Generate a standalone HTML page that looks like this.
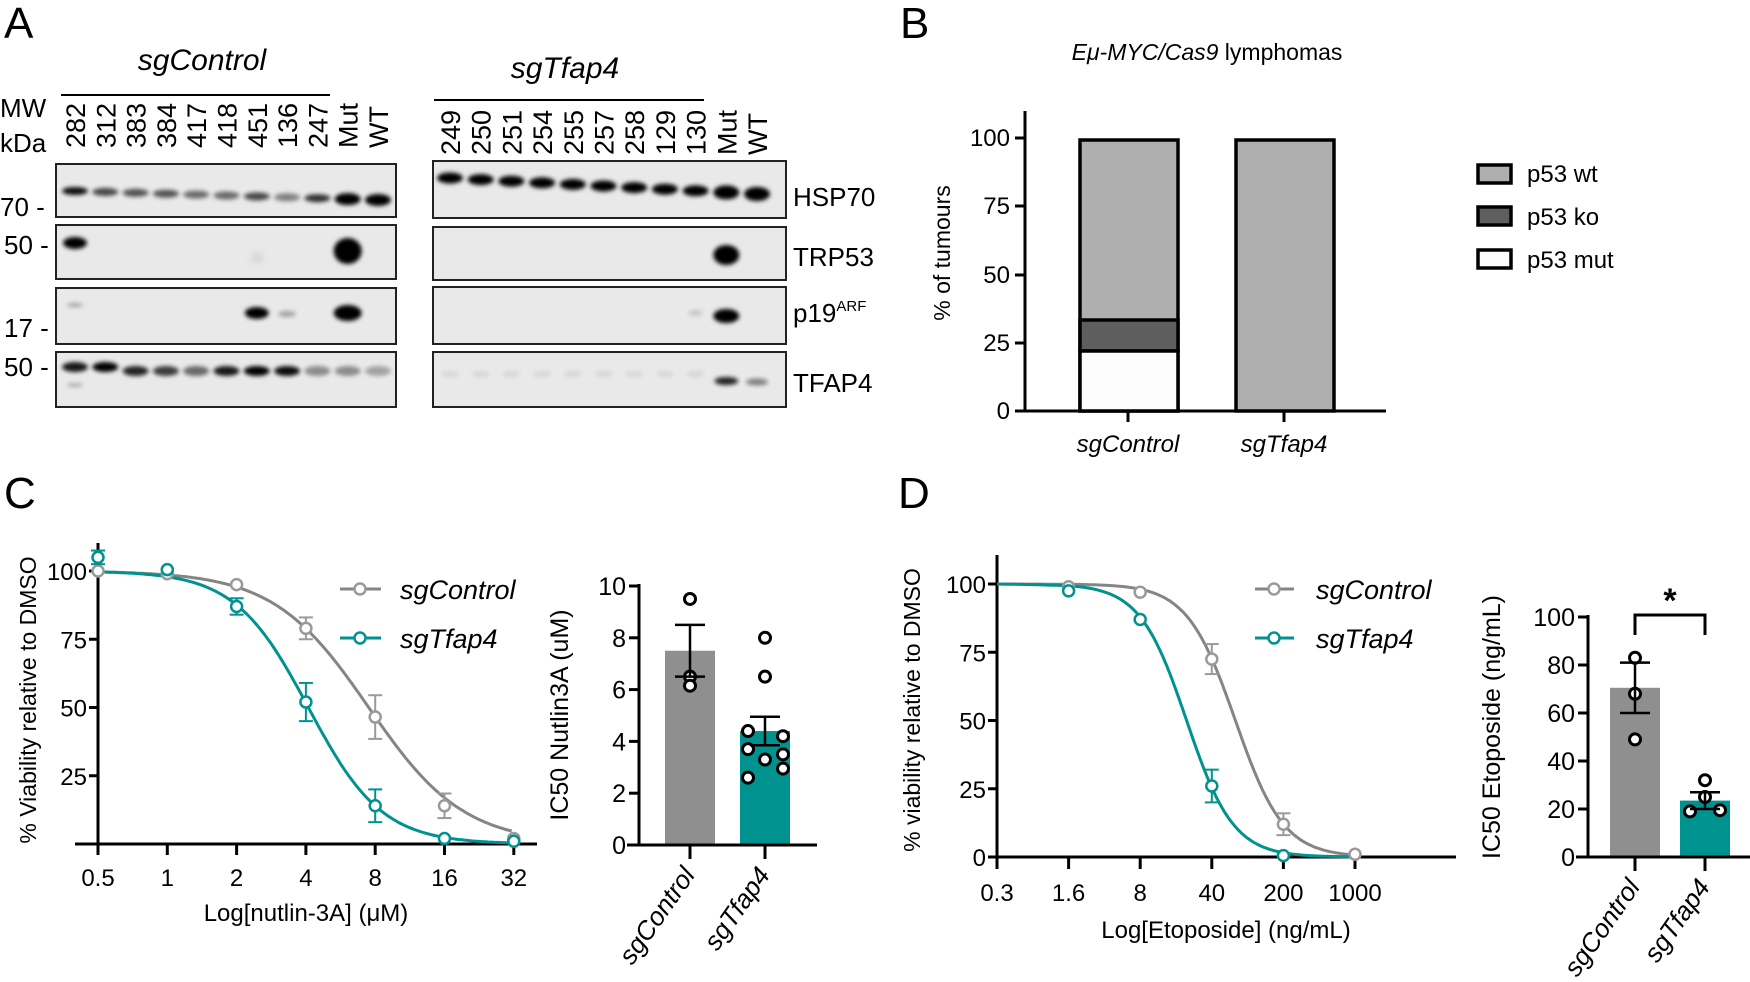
<!DOCTYPE html>
<html><head><meta charset="utf-8"><style>
html,body{margin:0;padding:0;background:#fff}
svg{display:block}
text{font-family:"Liberation Sans",sans-serif;fill:#000}
.it{font-style:italic}
</style></head><body>
<svg id="s" width="1750" height="982" viewBox="0 0 1750 982" xmlns="http://www.w3.org/2000/svg">
<defs>
<filter id="bl" x="-50%" y="-100%" width="200%" height="300%"><feGaussianBlur stdDeviation="2.2"/></filter>
<filter id="bl2" x="-50%" y="-100%" width="200%" height="300%"><feGaussianBlur stdDeviation="4"/></filter>
</defs>
<text x="4" y="38" font-size="44">A</text>
<text x="900" y="38" font-size="44">B</text>
<text x="4" y="508" font-size="44">C</text>
<text x="898" y="508" font-size="44">D</text>

<text x="202" y="70" font-size="30" class="it" text-anchor="middle">sgControl</text>
<line x1="61" y1="95" x2="330" y2="95" stroke="#000" stroke-width="2"/>
<text x="565" y="78" font-size="30" class="it" text-anchor="middle">sgTfap4</text>
<line x1="434" y1="100" x2="704" y2="100" stroke="#000" stroke-width="2"/>
<text x="0" y="117" font-size="26">MW</text>
<text x="0" y="152" font-size="26">kDa</text>
<g id="lanes" font-size="27"></g>
<g id="blots"></g>
<g font-size="26">
<text x="0" y="216">70 -</text>
<text x="4" y="254">50 -</text>
<text x="4" y="337">17 -</text>
<text x="4" y="376">50 -</text>
<text x="793" y="206">HSP70</text>
<text x="793" y="266">TRP53</text>
<text x="793" y="322">p19<tspan font-size="15" dy="-11">ARF</tspan></text>
<text x="793" y="392">TFAP4</text>
</g>

<text x="1207" y="60" font-size="23" text-anchor="middle"><tspan class="it">Eμ-MYC/Cas9</tspan> lymphomas</text>
<text transform="translate(950,253) rotate(-90)" font-size="23" text-anchor="middle">% of tumours</text>
<g stroke="#000" stroke-width="3">
<line x1="1025" y1="111" x2="1025" y2="412"/>
<line x1="1015" y1="411" x2="1386" y2="411"/>
<line x1="1015" y1="138" x2="1025" y2="138"/>
<line x1="1015" y1="206" x2="1025" y2="206"/>
<line x1="1015" y1="275" x2="1025" y2="275"/>
<line x1="1015" y1="343" x2="1025" y2="343"/>
<line x1="1128" y1="411" x2="1128" y2="422"/>
<line x1="1284" y1="411" x2="1284" y2="422"/>
</g>
<g font-size="24" text-anchor="end">
<text x="1010" y="146">100</text><text x="1010" y="214">75</text><text x="1010" y="283">50</text><text x="1010" y="351">25</text><text x="1010" y="419">0</text>
</g>
<g stroke="#000" stroke-width="3.5">
<rect x="1080" y="140" width="98" height="271" fill="#afafaf"/>
<rect x="1080" y="320" width="98" height="31" fill="#5e5e5e"/>
<rect x="1080" y="351" width="98" height="60" fill="#fcfcfc"/>
<rect x="1236" y="140" width="98" height="271" fill="#afafaf"/>
<rect x="1478" y="165" width="33" height="18" fill="#afafaf"/>
<rect x="1478" y="207" width="33" height="18" fill="#5e5e5e"/>
<rect x="1478" y="250" width="33" height="18" fill="#fcfcfc"/>
</g>
<g font-size="24">
<text x="1527" y="182">p53 wt</text><text x="1527" y="225">p53 ko</text><text x="1527" y="268">p53 mut</text>
<text x="1128" y="452" class="it" text-anchor="middle">sgControl</text>
<text x="1284" y="452" class="it" text-anchor="middle">sgTfap4</text>
</g>

<g id="plots"></g>
</svg>
<script>
var S=document.getElementById('s');
function add(parent,html){parent.insertAdjacentHTML('beforeend',html);}
var lanesG=document.getElementById('lanes');
var L1=['282','312','383','384','417','418','451','136','247','Mut','WT'];
var L2=['249','250','251','254','255','257','258','129','130','Mut','WT'];
var lx1=[],lx2=[];
for(var i=0;i<11;i++){lx1.push(75+i*30.3);lx2.push(450+i*30.7);}
var h='';
for(i=0;i<11;i++){h+='<text transform="translate('+(lx1[i]+10)+',148) rotate(-90)">'+L1[i]+'</text>';
h+='<text transform="translate('+(lx2[i]+10)+',155) rotate(-90)">'+L2[i]+'</text>';}
add(lanesG,h);
var B=document.getElementById('blots');h='';
var boxes=[[56,164,340,53],[56,225,340,54],[56,288,340,56],[56,352,340,55],[433,161,353,57],[433,227,353,53],[433,287,353,57],[433,352,353,55]];
boxes.forEach(function(b){h+='<rect x="'+b[0]+'" y="'+b[1]+'" width="'+b[2]+'" height="'+b[3]+'" fill="#e9e9e9" stroke="#222" stroke-width="2"/>';});
function band(x,y,w,hh,op,f){return '<ellipse cx="'+x+'" cy="'+y+'" rx="'+w+'" ry="'+hh+'" fill="#000" opacity="'+op+'" filter="url(#'+(f||'bl')+')"/>';}
var hop=[0.95,0.7,0.65,0.65,0.55,0.55,0.7,0.45,0.8,1,1];
for(i=0;i<11;i++){h+=band(lx1[i],191+i*0.9,13,(i>8?6:4),hop[i]);}
h+=band(lx1[0],243,12,6,1);h+=band(lx1[9],251,14,13,1);h+=band(lx1[6],258,6,4,0.12,'bl2');
h+=band(lx1[0],305,8,2,0.3);h+=band(lx1[6],313,12,6,1);h+=band(lx1[7],314,9,3,0.3);h+=band(lx1[9],313,14,8,1);
var top_=[0.9,1,0.85,0.75,0.55,0.9,1,0.95,0.4,0.4,0.3];
for(i=0;i<11;i++){h+=band(lx1[i],369+(i<2?-2:2),13,5,top_[i]);}
h+=band(lx1[0],385,8,2,0.25);
for(i=0;i<11;i++){h+=band(lx2[i],178+i*1.6,13,(i>8?7:5.5),1);}
h+=band(lx2[9],255,13,10,1);
h+=band(lx2[8],313,7,3,0.15);h+=band(lx2[9],316,13,7,1);
h+=band(lx2[9],381,12,4,0.85);h+=band(lx2[10],382,11,3.5,0.45);
for(i=0;i<9;i++){h+=band(lx2[i],374,9,3,0.08);}
add(B,h);

var P=document.getElementById('plots');h='';
var G='#858585',GL='#9a9a9a',T='#00928f';
function hill(x,ic,n){return 100/(1+Math.pow(x/ic,n));}
function axisC(){
 var x0=98,y0=844,ky=2.73;
 var s='<g stroke="#000" stroke-width="3"><line x1="'+x0+'" y1="543" x2="'+x0+'" y2="'+(y0+10)+'"/><line x1="75" y1="'+y0+'" x2="537" y2="'+y0+'"/>';
 [100,75,50,25].forEach(function(v){s+='<line x1="'+(x0-9)+'" y1="'+(y0-v*ky)+'" x2="'+x0+'" y2="'+(y0-v*ky)+'"/>';});
 for(var k=0;k<7;k++){s+='<line x1="'+(x0+k*69.3)+'" y1="'+y0+'" x2="'+(x0+k*69.3)+'" y2="'+(y0+11)+'"/>';}
 s+='</g><g font-size="24" text-anchor="end">';
 [100,75,50,25].forEach(function(v){s+='<text x="'+(x0-11)+'" y="'+(y0-v*ky+9)+'">'+v+'</text>';});
 s+='</g><g font-size="24" text-anchor="middle">';
 ['0.5','1','2','4','8','16','32'].forEach(function(t,k){s+='<text x="'+(x0+k*69.3)+'" y="'+(y0+42)+'">'+t+'</text>';});
 s+='<text x="306" y="'+(y0+77)+'">Log[nutlin-3A] (μM)</text></g>';
 s+='<text transform="translate(36,700) rotate(-90)" font-size="23" text-anchor="middle">% Viability relative to DMSO</text>';
 function X(c){return x0+Math.log(c/0.5)/Math.LN2*69.3;}
 function Y(v){return y0-v*ky;}
 [[7.5,2.1,G],[4.1,2.72,T]].forEach(function(p){var d='';for(var c=0.5;c<=32.01;c*=1.03){d+=(d?'L':'M')+X(c).toFixed(1)+','+Y(hill(c,p[0],p[1])).toFixed(1);}s+='<path d="'+d+'" fill="none" stroke="'+p[2]+'" stroke-width="3"/>';});
 var gd=[[0.5,100],[1,99],[2,95],[4,79,4],[8,46.5,8],[16,14,4.5],[32,2]];
 var td=[[0.5,105,2.5],[1,100.5],[2,87,3],[4,52,7],[8,14,6],[16,2],[32,1]];
 [[gd,GL],[td,T]].forEach(function(q){q[0].forEach(function(p){var x=X(p[0]),y=Y(p[1]);if(p[2]){var a=Y(p[1]+p[2]),b=Y(p[1]-p[2]);s+='<g stroke="'+q[1]+'" stroke-width="2"><line x1="'+x+'" y1="'+a+'" x2="'+x+'" y2="'+b+'"/><line x1="'+(x-7)+'" y1="'+a+'" x2="'+(x+7)+'" y2="'+a+'"/><line x1="'+(x-7)+'" y1="'+b+'" x2="'+(x+7)+'" y2="'+b+'"/></g>';}s+='<circle cx="'+x+'" cy="'+y+'" r="5.5" fill="#fff" stroke="'+q[1]+'" stroke-width="2.5"/>';});});
 s+='<line x1="340" y1="589" x2="381" y2="589" stroke="'+G+'" stroke-width="3"/><circle cx="360" cy="589" r="5.5" fill="#fff" stroke="'+GL+'" stroke-width="2.5"/>';
 s+='<line x1="340" y1="638" x2="381" y2="638" stroke="'+T+'" stroke-width="3"/><circle cx="360" cy="638" r="5.5" fill="#fff" stroke="'+T+'" stroke-width="2.5"/>';
 s+='<text x="400" y="599" font-size="27" class="it">sgControl</text><text x="400" y="648" font-size="27" class="it">sgTfap4</text>';
 return s;
}
function axisD(){
 var x0=997,y0=857,ky=2.73,sp=71.6;
 var s='<g stroke="#000" stroke-width="3"><line x1="'+x0+'" y1="555" x2="'+x0+'" y2="'+(y0+12)+'"/><line x1="'+(x0-9)+'" y1="'+y0+'" x2="1456" y2="'+y0+'"/>';
 [100,75,50,25].forEach(function(v){s+='<line x1="'+(x0-9)+'" y1="'+(y0-v*ky)+'" x2="'+x0+'" y2="'+(y0-v*ky)+'"/>';});
 for(var k=0;k<6;k++){s+='<line x1="'+(x0+k*sp)+'" y1="'+y0+'" x2="'+(x0+k*sp)+'" y2="'+(y0+12)+'"/>';}
 s+='</g><g font-size="24" text-anchor="end">';
 [100,75,50,25,0].forEach(function(v){s+='<text x="'+(x0-11)+'" y="'+(y0-v*ky+9)+'">'+v+'</text>';});
 s+='</g><g font-size="24" text-anchor="middle">';
 ['0.3','1.6','8','40','200','1000'].forEach(function(t,k){s+='<text x="'+(x0+k*sp)+'" y="'+(y0+44)+'">'+t+'</text>';});
 s+='<text x="1226" y="'+(y0+81)+'">Log[Etoposide] (ng/mL)</text></g>';
 s+='<text transform="translate(920,710) rotate(-90)" font-size="23" text-anchor="middle">% viability relative to DMSO</text>';
 function X(c){return x0+sp+Math.log(c/1.6)/Math.log(5)*sp;}
 function Y(v){return y0-v*ky;}
 [[68,1.84,G],[22.7,1.9,T]].forEach(function(p){var d='';for(var c=0.3;c<=1000.1;c*=1.04){d+=(d?'L':'M')+(c<1.6?x0+(c-0.3)/1.3*sp:X(c)).toFixed(1)+','+Y(hill(c,p[0],p[1])).toFixed(1);}s+='<path d="'+d+'" fill="none" stroke="'+p[2]+'" stroke-width="3"/>';});
 var gd=[[1.6,99],[8,97],[40,72.5,5.5],[200,12,4],[1000,1]];
 var td=[[1.6,97.5],[8,87],[40,26,6],[200,0.5]];
 [[gd,GL],[td,T]].forEach(function(q){q[0].forEach(function(p){var x=X(p[0]),y=Y(p[1]);if(p[2]){var a=Y(p[1]+p[2]),b=Y(p[1]-p[2]);s+='<g stroke="'+q[1]+'" stroke-width="2"><line x1="'+x+'" y1="'+a+'" x2="'+x+'" y2="'+b+'"/><line x1="'+(x-7)+'" y1="'+a+'" x2="'+(x+7)+'" y2="'+a+'"/><line x1="'+(x-7)+'" y1="'+b+'" x2="'+(x+7)+'" y2="'+b+'"/></g>';}s+='<circle cx="'+x+'" cy="'+y+'" r="5.5" fill="#fff" stroke="'+q[1]+'" stroke-width="2.5"/>';});});
 s+='<line x1="1255" y1="589" x2="1294" y2="589" stroke="'+G+'" stroke-width="3"/><circle cx="1274" cy="589" r="5.5" fill="#fff" stroke="'+GL+'" stroke-width="2.5"/>';
 s+='<line x1="1255" y1="638" x2="1294" y2="638" stroke="'+T+'" stroke-width="3"/><circle cx="1274" cy="638" r="5.5" fill="#fff" stroke="'+T+'" stroke-width="2.5"/>';
 s+='<text x="1316" y="599" font-size="27" class="it">sgControl</text><text x="1316" y="648" font-size="27" class="it">sgTfap4</text>';
 return s;
}
function barChart(o){
 var s='',y0=o.y0,k=o.k;
 s+='<rect x="'+(o.c1-25)+'" y="'+(y0-o.m1*k)+'" width="50" height="'+(o.m1*k)+'" fill="#8f8f8f"/>';
 s+='<rect x="'+(o.c2-25)+'" y="'+(y0-o.m2*k)+'" width="50" height="'+(o.m2*k)+'" fill="#00928f"/>';
 s+='<g stroke="#000" stroke-width="3"><line x1="'+o.x0+'" y1="'+(y0-o.max*k-2)+'" x2="'+o.x0+'" y2="'+(y0+1)+'"/><line x1="'+(o.x0-12)+'" y1="'+y0+'" x2="'+o.xe+'" y2="'+y0+'"/>';
 o.ticks.forEach(function(v){s+='<line x1="'+(o.x0-10)+'" y1="'+(y0-v*k)+'" x2="'+o.x0+'" y2="'+(y0-v*k)+'"/>';});
 s+='<line x1="'+o.c1+'" y1="'+y0+'" x2="'+o.c1+'" y2="'+(y0+14)+'"/><line x1="'+o.c2+'" y1="'+y0+'" x2="'+o.c2+'" y2="'+(y0+14)+'"/></g>';
 s+='<g font-size="25" text-anchor="end">';o.ticks.forEach(function(v){s+='<text x="'+(o.x0-13)+'" y="'+(y0-v*k+9)+'">'+v+'</text>';});s+='</g>';
 o.pts.forEach(function(p){s+='<circle cx="'+p[0]+'" cy="'+(y0-p[1]*k)+'" r="5.5" fill="#fff" stroke="#000" stroke-width="3"/>';});
 [[o.c1,o.e1],[o.c2,o.e2]].forEach(function(e){var a=y0-e[1][1]*k,b=y0-e[1][0]*k;s+='<g stroke="#000" stroke-width="2.5"><line x1="'+e[0]+'" y1="'+a+'" x2="'+e[0]+'" y2="'+b+'"/><line x1="'+(e[0]-15)+'" y1="'+a+'" x2="'+(e[0]+15)+'" y2="'+a+'"/><line x1="'+(e[0]-15)+'" y1="'+b+'" x2="'+(e[0]+15)+'" y2="'+b+'"/></g>';});
 s+='<text transform="translate('+o.ylx+','+o.yly+') rotate(-90)" font-size="25" text-anchor="middle">'+o.yl+'</text>';
 s+='<text transform="translate('+(o.c1+6)+','+(y0+30)+') rotate(-55)" font-size="26" class="it" text-anchor="end">sgControl</text>';
 s+='<text transform="translate('+(o.c2+6)+','+(y0+30)+') rotate(-55)" font-size="26" class="it" text-anchor="end">sgTfap4</text>';
 return s;
}
h+=axisC();h+=axisD();
h+=barChart({x0:639,xe:817,y0:845,k:25.9,max:10,ticks:[0,2,4,6,8,10],c1:690,c2:765,m1:7.5,m2:4.4,e1:[6.5,8.5],e2:[3.85,4.95],
 pts:[[690,9.5],[690,6.5],[690,6.15],[765,8],[765,6.5],[748,4.4],[783,4.2],[748,3.7],[783,3.5],[765,3.3],[783,2.95],[748,2.6]],ylx:568,yly:715,yl:'IC50 Nutlin3A (uM)'});
h+=barChart({x0:1588,xe:1750,y0:857,k:2.4,max:100,ticks:[0,20,40,60,80,100],c1:1635,c2:1705,m1:70.5,m2:23.5,e1:[60,81],e2:[20,27],
 pts:[[1635,83],[1635,68],[1635,49],[1705,32],[1705,25],[1690,19],[1720,19.5]],ylx:1500,yly:727,yl:'IC50 Etoposide (ng/mL)'});
h+='<path d="M1635,635 L1635,615 L1705,615 L1705,635" fill="none" stroke="#000" stroke-width="3"/><text x="1670" y="612" font-size="34" font-weight="bold" text-anchor="middle">*</text>';
add(P,h);
</script>
</body></html>
